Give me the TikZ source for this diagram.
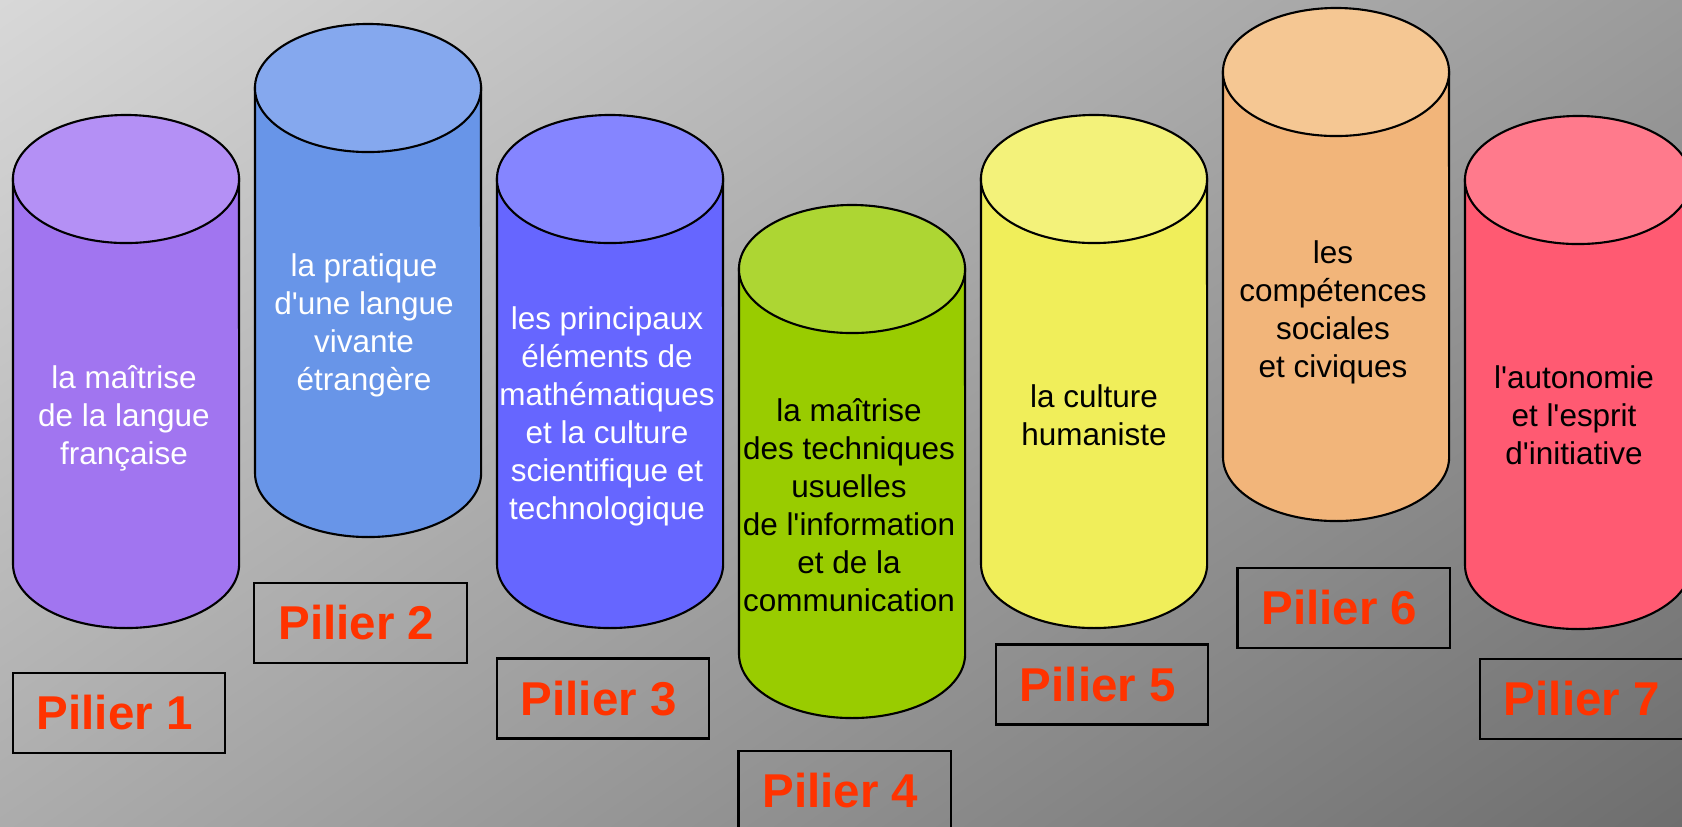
\documentclass[tikz,border=0pt]{standalone}
\usepackage{fontspec}
\usetikzlibrary{shadings}
\setmainfont{Liberation Sans}[Ligatures=TeXOff]
\definecolor{bgul}{RGB}{216,216,216}
\definecolor{bgur}{RGB}{155,155,155}
\definecolor{bgll}{RGB}{172,172,172}
\definecolor{bglr}{RGB}{110,110,110}
\definecolor{pil}{RGB}{255,51,0}
\definecolor{b1}{RGB}{161,117,240}\definecolor{h1}{RGB}{180,144,245}
\definecolor{b2}{RGB}{104,149,232}\definecolor{h2}{RGB}{133,168,238}
\definecolor{b3}{RGB}{102,102,255}\definecolor{h3}{RGB}{133,133,255}
\definecolor{b4}{RGB}{153,204,0}\definecolor{h4}{RGB}{173,214,51}
\definecolor{b5}{RGB}{240,238,90}\definecolor{h5}{RGB}{243,242,122}
\definecolor{b6}{RGB}{242,181,122}\definecolor{h6}{RGB}{245,199,147}
\definecolor{b7}{RGB}{255,90,114}\definecolor{h7}{RGB}{255,122,140}
\newcommand\pillarcyl[4]{%
  \filldraw[cylline, fill=#3] (#1-113,#2+64) -- (#1-113,#2+449)
    arc[start angle=180, end angle=360, x radius=1.13cm, y radius=0.64cm]
    -- (#1+113,#2+64) -- cycle;
  \filldraw[cylline, fill=#4] (#1,#2+64) ellipse [x radius=1.13cm, y radius=0.64cm];
}
\newcommand\pil[1]{Pilier #1\hspace*{2.4pt}}
\begin{document}
\begin{tikzpicture}[x=0.01cm, y=-0.01cm,
  cylline/.style={draw=black, line width=0.6pt},
  body/.style={align=center, inner sep=0pt, font=\fontsize{8.95pt}{10.8pt}\selectfont},
  pbox/.style={draw=black, line width=0.6pt, minimum width=2.12cm, minimum height=0.8cm,
    inner sep=0pt, text=pil, font=\fontsize{13.5pt}{15pt}\selectfont\bfseries}]
\useasboundingbox (0,0) rectangle (1682,826);
\clip (0,0) rectangle (1682,826);
\shade[upper left=bgul, upper right=bgur, lower left=bgll, lower right=bglr] (0,0) rectangle (1682,826);

\pillarcyl{126}{115}{b1}{h1}
\pillarcyl{368}{24}{b2}{h2}
\pillarcyl{610}{115}{b3}{h3}
\pillarcyl{852}{205}{b4}{h4}
\pillarcyl{1094}{115}{b5}{h5}
\pillarcyl{1336}{8}{b6}{h6}
\pillarcyl{1578}{116}{b7}{h7}

\node[body, text=white] (t1) at (124,418) {la maîtrise\\de la langue\\ française};
\node[body, text=white] (t2) at (364,325) {la pratique\\d'une langue\\vivante\\ étrangère};
\node[body, text=white] (t3) at (607,416) {les principaux\\éléments de\\mathématiques\\et la culture\\scientifique et\\ technologique};
\node[body, text=black] (t4) at (849,505) {la maîtrise\\des techniques\\usuelles\\de l'information\\et de la\\ communication};
\node[body, text=black] (t5) at (1094,415) {la culture\\humaniste};
\node[body, text=black] (t6) at (1333,312) {les\\compétences\\sociales\\ et civiques};
\node[body, text=black] (t7) at (1574,415) {l'autonomie\\et l'esprit\\ d'initiative};

\node[pbox] (p1) at (119,713) {\pil{1}};
\node[pbox] (p2) at (360.5,623) {\pil{2}};
\node[pbox] (p3) at (603,698.5) {\pil{3}};
\node[pbox] (p4) at (844.5,791) {\pil{4}};
\node[pbox] (p5) at (1102,684.5) {\pil{5}};
\node[pbox] (p6) at (1343.5,608) {\pil{6}};
\node[pbox] (p7) at (1586,699) {\pil{7}};
\end{tikzpicture}
\end{document}
